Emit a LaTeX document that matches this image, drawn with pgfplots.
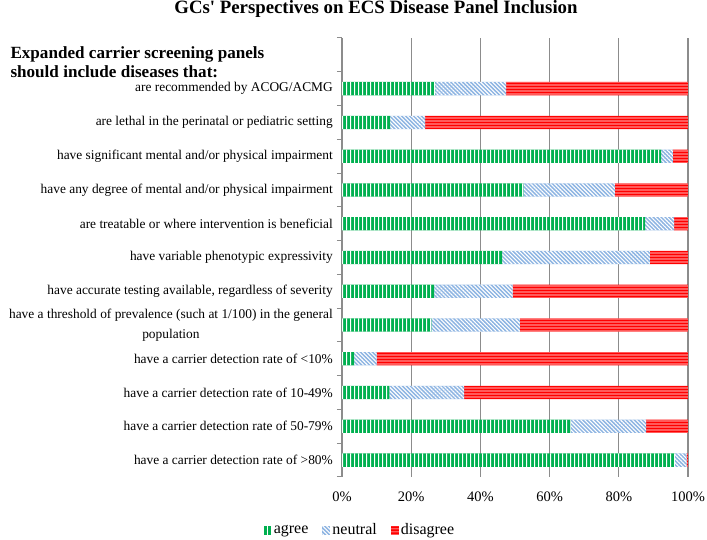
\documentclass[border=0pt]{standalone}
\usepackage{pgfplots}
\pgfplotsset{compat=1.18}
\usepackage{fontspec}
\setmainfont{Liberation Serif}
\usetikzlibrary{patterns.meta}
\definecolor{agreeG}{HTML}{00B050}
\definecolor{neutB}{HTML}{8DB4E2}
\definecolor{disR}{HTML}{FF0000}
\definecolor{gridG}{HTML}{8C8C8C}
\pgfdeclarepattern{
  name=VStripes, type=uncolored,
  bottom left={\pgfpoint{0pt}{0pt}}, top right={\pgfpoint{4pt}{800pt}},
  tile size={\pgfpoint{4pt}{800pt}},
  code={\pgfpathrectangle{\pgfpoint{2.7pt}{0pt}}{\pgfpoint{1.3pt}{800pt}}\pgfusepath{fill}}}
\pgfdeclarepattern{
  name=HStripes, type=uncolored,
  bottom left={\pgfpoint{0pt}{0pt}}, top right={\pgfpoint{800pt}{3pt}},
  tile size={\pgfpoint{800pt}{3pt}},
  code={\pgfpathrectangle{\pgfpoint{0pt}{2.2pt}}{\pgfpoint{800pt}{0.8pt}}\pgfusepath{fill}}}
\begin{document}
\begin{tikzpicture}
\useasboundingbox (-342pt,-63pt) rectangle (365pt,477pt);
\begin{axis}[
  at={(0pt,0pt)}, anchor=south west,
  scale only axis, width=346pt, height=439pt,
  xbar stacked, bar width=13.3pt,
  xmin=0, xmax=100, ymin=-0.5, ymax=12.5,
  axis x line=bottom, axis y line=left,
  x axis line style={draw=none},
  y axis line style={draw=gridG, line width=1.3pt, -},
  xtick={0,20,40,60,80,100},
  xticklabels={0\%,20\%,40\%,60\%,80\%,100\%},
  xmajorgrids, grid style={gridG, line width=1.3pt},
  xtick style={draw=none},
  xticklabel style={font=\fontsize{14.5}{16}\selectfont, inner sep=0pt, anchor=north, yshift=-15pt},
  ytick={0,...,11},
  yticklabels={
    have a carrier detection rate of >80\%,
    have a carrier detection rate of 50-79\%,
    have a carrier detection rate of 10-49\%,
    have a carrier detection rate of <10\%,
    {have a threshold of prevalence (such at 1/100) in the general\\[3pt]population},
    {have accurate testing available, regardless of severity},
    have variable phenotypic expressivity,
    are treatable or where intervention is beneficial,
    have any degree of mental and/or physical impairment,
    have significant mental and/or physical impairment,
    are lethal in the perinatal or pediatric setting,
    are recommended by ACOG/ACMG},
  yticklabel style={font=\fontsize{13.4}{16.5}\selectfont, align=center, inner sep=0pt, xshift=-9pt},
  minor ytick={-0.5,0.5,...,12.5},
  minor y tick style={draw=gridG, line width=1pt},
  minor tick length=5pt, major tick length=0pt,
  tick align=outside,
  legend style={at={(axis description cs:0.052,-0.121)}, anchor=center, draw=none,
    font=\fontsize{16}{18}\selectfont, inner sep=1pt,
    /tikz/every even column/.append style={column sep=12pt}},
  legend columns=3,
  legend image code/.code={\fill[#1] (0pt,-4.5pt) rectangle (8pt,4.5pt);},
]
\addplot[draw=none, fill=agreeG, postaction={pattern=VStripes, pattern color=white}]
  coordinates {(96.2,0) (66.1,1) (13.7,2) (3.5,3) (25.8,4) (26.6,5) (46.3,6) (87.6,7) (52.4,8) (92.2,9) (13.9,10) (26.9,11)};
\addlegendentry{agree}
\addplot[draw=none, fill=neutB, postaction={pattern={Lines[angle=-45,distance=2.8pt,line width=1.1pt]}, pattern color=white}]
  coordinates {(3.4,0) (21.8,1) (21.6,2) (6.5,3) (25.6,4) (22.7,5) (42.7,6) (8.4,7) (26.5,8) (3.4,9) (10.1,10) (20.5,11)};
\addlegendentry{neutral}
\addplot[draw=none, fill=disR, postaction={pattern=HStripes, pattern color=white}]
  coordinates {(0.4,0) (12.1,1) (64.7,2) (90.0,3) (48.6,4) (50.7,5) (11.0,6) (4.0,7) (21.1,8) (4.4,9) (76.0,10) (52.6,11)};
\addlegendentry{disagree}
\end{axis}
\node[anchor=base, font=\fontsize{18.8}{20}\selectfont\bfseries] at (34pt,463.7pt) {GCs\textquotesingle{} Perspectives on ECS Disease Panel Inclusion};
\node[anchor=base west, font=\fontsize{17.1}{20}\selectfont\bfseries] at (-335pt,418pt) {Expanded carrier screening panels};
\node[anchor=base west, font=\fontsize{17.1}{20}\selectfont\bfseries] at (-335pt,399pt) {should include diseases that:};
\end{tikzpicture}
\end{document}
